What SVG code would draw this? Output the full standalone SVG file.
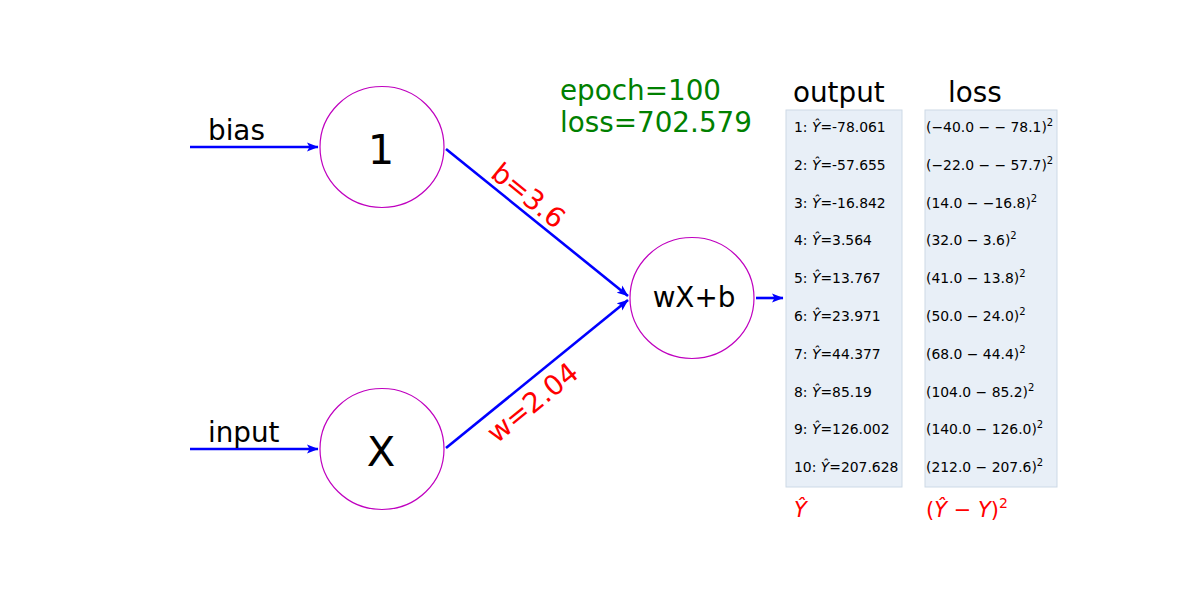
<svg xmlns="http://www.w3.org/2000/svg" width="1200" height="600" viewBox="0 0 1200 600">
<style>
text{font-family:"DejaVu Sans","Liberation Sans",sans-serif;}
.node{fill:#ffffff;stroke:#bf00bf;stroke-width:1.2;}
.edge{stroke:#0000ff;stroke-width:2.6;fill:none;marker-end:url(#ah);}
.lbl{font-size:27.8px;fill:#000;}
.big{font-size:41.7px;fill:#000;text-anchor:middle;}
.red{fill:#ff0000;}
.green{font-size:27.8px;fill:#008000;}
.box{fill:#e8eff7;stroke:#cdd9e6;stroke-width:1;}
.row{font-size:13.9px;fill:#000;}
.it{font-style:italic;}
</style>
<defs>
<marker id="ah" viewBox="0 0 12 10" refX="11" refY="5" markerWidth="12" markerHeight="10" markerUnits="userSpaceOnUse" orient="auto">
<path d="M0,0.5 L11.5,5 L0,9.5 L2.5,5 Z" fill="#0000ff"/>
</marker>
</defs>
<rect width="1200" height="600" fill="#ffffff"/>

<g id="connectors">
<line class="edge" x1="190" y1="147" x2="318" y2="147"/>
<line class="edge" x1="190" y1="449" x2="318" y2="449"/>
<line class="edge" x1="446" y1="149" x2="628" y2="296"/>
<line class="edge" x1="446" y1="448" x2="628" y2="300"/>
<line class="edge" x1="756" y1="298" x2="783" y2="298"/>
<text class="lbl red" transform="translate(528,196) rotate(38.9)" text-anchor="middle" dy="9">b=3.6</text>
<text class="lbl red" transform="translate(533,403) rotate(-39.1)" text-anchor="middle" dy="9">w=2.04</text>
</g>

<g id="label-bias"><text class="lbl" x="208" y="140">bias</text></g>
<g id="label-input"><text class="lbl" x="208" y="442">input</text></g>

<g id="node-bias">
<ellipse class="node" cx="382" cy="147" rx="62" ry="60.5"/>
<text class="big" x="381" y="164">1</text>
</g>
<g id="node-input">
<ellipse class="node" cx="382" cy="449" rx="62" ry="60.5"/>
<text class="big" x="381" y="466">X</text>
</g>
<g id="node-sum">
<ellipse class="node" cx="692" cy="298" rx="62" ry="60.5"/>
<text class="lbl" x="694" y="307" text-anchor="middle">wX+b</text>
</g>

<g id="title">
<text class="green" x="560" y="100">epoch=100</text>
<text class="green" x="560" y="132">loss=702.579</text>
</g>

<g id="output">
<text class="lbl" x="793" y="102">output</text>
<rect class="box" x="786" y="110" width="116" height="377"/>
<text class="row" x="794" y="132">1: <tspan class="it">Ŷ</tspan>=-78.061</text>
<text class="row" x="794" y="170">2: <tspan class="it">Ŷ</tspan>=-57.655</text>
<text class="row" x="794" y="208">3: <tspan class="it">Ŷ</tspan>=-16.842</text>
<text class="row" x="794" y="245">4: <tspan class="it">Ŷ</tspan>=3.564</text>
<text class="row" x="794" y="283">5: <tspan class="it">Ŷ</tspan>=13.767</text>
<text class="row" x="794" y="321">6: <tspan class="it">Ŷ</tspan>=23.971</text>
<text class="row" x="794" y="359">7: <tspan class="it">Ŷ</tspan>=44.377</text>
<text class="row" x="794" y="397">8: <tspan class="it">Ŷ</tspan>=85.19</text>
<text class="row" x="794" y="434">9: <tspan class="it">Ŷ</tspan>=126.002</text>
<text class="row" x="794" y="472">10: <tspan class="it">Ŷ</tspan>=207.628</text>
<text class="it red" x="794" y="517" font-size="21">Ŷ</text>
</g>

<g id="loss">
<text class="lbl" x="948" y="102">loss</text>
<rect class="box" x="925" y="110" width="132" height="377"/>
<text class="row" x="926" y="132">(−40.0 − − 78.1)<tspan dy="-6" font-size="10">2</tspan></text>
<text class="row" x="926" y="170">(−22.0 − − 57.7)<tspan dy="-6" font-size="10">2</tspan></text>
<text class="row" x="926" y="208">(14.0 − −16.8)<tspan dy="-6" font-size="10">2</tspan></text>
<text class="row" x="926" y="245">(32.0 − 3.6)<tspan dy="-6" font-size="10">2</tspan></text>
<text class="row" x="926" y="283">(41.0 − 13.8)<tspan dy="-6" font-size="10">2</tspan></text>
<text class="row" x="926" y="321">(50.0 − 24.0)<tspan dy="-6" font-size="10">2</tspan></text>
<text class="row" x="926" y="359">(68.0 − 44.4)<tspan dy="-6" font-size="10">2</tspan></text>
<text class="row" x="926" y="397">(104.0 − 85.2)<tspan dy="-6" font-size="10">2</tspan></text>
<text class="row" x="926" y="434">(140.0 − 126.0)<tspan dy="-6" font-size="10">2</tspan></text>
<text class="row" x="926" y="472">(212.0 − 207.6)<tspan dy="-6" font-size="10">2</tspan></text>
<text class="red" x="926" y="517" font-size="21">(<tspan class="it">Ŷ</tspan> − <tspan class="it">Y</tspan>)<tspan dy="-9" font-size="14">2</tspan></text>
</g>
</svg>
